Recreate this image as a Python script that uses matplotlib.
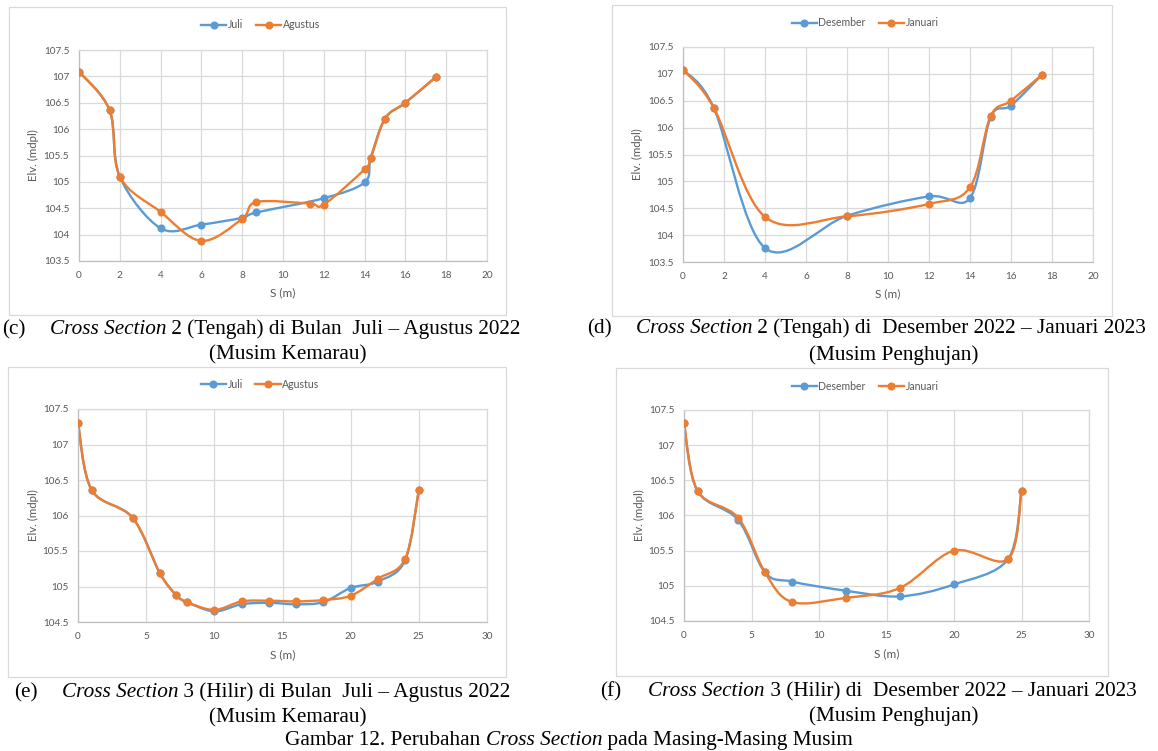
import numpy as np
import matplotlib
matplotlib.use("Agg")
import matplotlib.pyplot as plt
from matplotlib.path import Path
from matplotlib.patches import PathPatch, Rectangle
from matplotlib.lines import Line2D
from matplotlib.ticker import MultipleLocator, FuncFormatter

# ---------------- data ----------------
# (c) Cross Section 2, Juli - Agustus 2022
c_juli_s = [0, 1.5, 2, 4, 6, 8, 8.7, 12, 14, 14.3, 15, 16, 17.5]
c_juli_e = [107.09, 106.36, 105.10, 104.12, 104.19, 104.32, 104.42, 104.69, 104.99, 105.45, 106.20, 106.50, 106.99]
c_agus_s = [0, 1.5, 2, 4, 6, 8, 8.7, 11.3, 12, 14, 14.3, 15, 16, 17.5]
c_agus_e = [107.09, 106.36, 105.10, 104.43, 103.88, 104.30, 104.62, 104.59, 104.57, 105.24, 105.45, 106.20, 106.50, 106.99]

# (d) Cross Section 2, Desember 2022 - Januari 2023
d_des_s = [0, 1.5, 4, 8, 12, 14, 15, 16, 17.5]
d_des_e = [107.08, 106.37, 103.76, 104.36, 104.72, 104.69, 106.19, 106.41, 106.98]
d_jan_s = [0, 1.5, 4, 8, 12, 14, 15, 16, 17.5]
d_jan_e = [107.08, 106.37, 104.34, 104.35, 104.58, 104.89, 106.21, 106.50, 106.98]

# (e) Cross Section 3, Juli - Agustus 2022
e_juli_s = [0, 1, 4, 6, 7.2, 8, 10, 12, 14, 16, 18, 20, 22, 24, 25]
e_juli_e = [107.30, 106.36, 105.97, 105.19, 104.88, 104.78, 104.65, 104.75, 104.77, 104.75, 104.78, 104.98, 105.07, 105.37, 106.36]
e_agus_s = [0, 1, 4, 6, 7.2, 8, 10, 12, 14, 16, 18, 20, 22, 24, 25]
e_agus_e = [107.30, 106.36, 105.97, 105.19, 104.88, 104.78, 104.67, 104.79, 104.80, 104.79, 104.81, 104.87, 105.11, 105.39, 106.36]

# (f) Cross Section 3, Desember 2022 - Januari 2023
f_des_s = [0, 1, 4, 6, 8, 12, 16, 20, 24, 25]
f_des_e = [107.31, 106.35, 105.94, 105.19, 105.06, 104.93, 104.85, 105.02, 105.38, 106.35]
f_jan_s = [0, 1, 4, 6, 8, 12, 16, 20, 24, 25]
f_jan_e = [107.31, 106.35, 105.97, 105.19, 104.77, 104.83, 104.97, 105.50, 105.38, 106.35]

labels_dry = ["Juli", "Agustus"]
labels_wet = ["Desember", "Januari"]

# ---------------- style ----------------
W, H = 1158, 751
BLUE = "#5B9BD5"
ORANGE = "#ED7D31"
GRID = "#D9D9D9"
TXT = "#595959"
SANS = ["Lato", "DejaVu Sans"]
SERIF = ["Liberation Serif", "DejaVu Serif"]

fig = plt.figure(figsize=(W / 100, H / 100), dpi=100)
fig.patch.set_facecolor("white")


def fx(x):
    return x / W


def fy(y):
    return 1 - y / H


def smooth_path(xs, ys):
    pts = np.column_stack([xs, ys]).astype(float)
    n = len(pts)
    verts = [pts[0]]
    codes = [Path.MOVETO]
    for i in range(n - 1):
        p0 = pts[i - 1] if i > 0 else pts[i]
        p1 = pts[i]
        p2 = pts[i + 1]
        p3 = pts[i + 2] if i + 2 < n else pts[i + 1]
        c1 = p1 + (p2 - p0) / 6.0
        c2 = p2 - (p3 - p1) / 6.0
        verts += [c1, c2, p2]
        codes += [Path.CURVE4] * 3
    return Path(verts, codes)


def panel(box, ax_px, xmax, xstep, ymin, series, labels, legend_y, ylab_x, xlab_y):
    bx0, by0, bx1, by1 = box
    fig.add_artist(Rectangle((fx(bx0), fy(by1)), fx(bx1 - bx0), (by1 - by0) / H,
                             transform=fig.transFigure, fill=False,
                             edgecolor=GRID, lw=0.9, zorder=0))
    l, t, r, b = ax_px
    ax = fig.add_axes([fx(l), fy(b), fx(r - l), (b - t) / H])
    ax.set_xlim(0, xmax)
    ax.set_ylim(ymin, 107.5)
    ax.xaxis.set_major_locator(MultipleLocator(xstep))
    ax.yaxis.set_major_locator(MultipleLocator(0.5))
    fmt = FuncFormatter(lambda v, p: f"{v:g}")
    ax.xaxis.set_major_formatter(fmt)
    ax.yaxis.set_major_formatter(fmt)
    ax.grid(True, color=GRID, lw=0.9)
    ax.set_axisbelow(True)
    for sp in ["top", "right"]:
        ax.spines[sp].set_color(GRID)
        ax.spines[sp].set_linewidth(0.9)
    for sp in ["left", "bottom"]:
        ax.spines[sp].set_color("#BFBFBF")
        ax.spines[sp].set_linewidth(0.9)
    ax.tick_params(length=0, labelsize=7.2, labelcolor=TXT, pad=7)
    for lab in ax.get_xticklabels() + ax.get_yticklabels():
        lab.set_family(SANS)
    ax.set_xlabel("S (m)", fontsize=8.5, color=TXT, family=SANS)
    ax.set_ylabel("Elv. (mdpl)", fontsize=8.3, color=TXT, family=SANS)
    ax.xaxis.set_label_coords(fx((l + r) / 2), fy(xlab_y), transform=fig.transFigure)
    ax.yaxis.set_label_coords(fx(ylab_x), fy((t + b) / 2), transform=fig.transFigure)
    ax.xaxis.label.set_va("center")
    ax.yaxis.label.set_va("center")

    handles = []
    for (xs, ys), color, lab in zip(series, [BLUE, ORANGE], labels):
        ax.add_patch(PathPatch(smooth_path(xs, ys), fill=False, edgecolor=color,
                               lw=1.7, capstyle="round", joinstyle="round"))
        ax.plot(xs, ys, "o", color=color, ms=4.8, zorder=3)
        handles.append(Line2D([], [], color=color, lw=1.7, marker="o", ms=4.8, label=lab))
    ax.legend(handles=handles, loc="center",
              bbox_to_anchor=(fx((bx0 + bx1) / 2 + 3), fy(legend_y)),
              bbox_transform=fig.transFigure, ncol=2, frameon=False,
              prop={"family": SANS, "size": 7.6}, labelcolor=TXT,
              handlelength=2.4, handletextpad=0.15, columnspacing=1.2)
    return ax


panel((9, 7, 506, 315), (79, 50, 487, 261), 20, 2, 103.5,
      [(c_juli_s, c_juli_e), (c_agus_s, c_agus_e)], labels_dry, 25, 33, 293)
panel((612, 5, 1112, 316), (683, 47, 1093, 262), 20, 2, 103.5,
      [(d_des_s, d_des_e), (d_jan_s, d_jan_e)], labels_wet, 23, 637, 294)
panel((8, 367, 506, 677), (78, 409, 487, 622), 30, 5, 104.5,
      [(e_juli_s, e_juli_e), (e_agus_s, e_agus_e)], labels_dry, 384, 33, 655)
panel((616, 368, 1108, 676), (684, 410, 1089, 621), 30, 5, 104.5,
      [(f_des_s, f_des_e), (f_jan_s, f_jan_e)], labels_wet, 386, 639, 654)

# ---------------- captions ----------------
renderer = fig.canvas.get_renderer()
CAP = 15.3


def seq_text(x0, y, parts):
    x = fx(x0)
    for s, style in parts:
        t = fig.text(x, fy(y), s, fontsize=CAP, family=SERIF, style=style,
                     va="baseline", ha="left", color="black")
        bb = t.get_window_extent(renderer)
        x = bb.x1 / (fig.dpi * fig.get_figwidth())


def caption(tag, tag_x, start_x, y1, y2, rest, line2, c2x):
    fig.text(fx(tag_x), fy(y1), tag, fontsize=CAP, family=SERIF, va="baseline", ha="left")
    seq_text(start_x, y1, [("Cross Section", "italic"), (rest, "normal")])
    fig.text(fx(c2x), fy(y2), line2, fontsize=CAP, family=SERIF, va="baseline", ha="center")


caption("(c)", 2, 50, 334, 359, " 2 (Tengah) di Bulan  Juli \u2013 Agustus 2022", "(Musim Kemarau)", 288)
caption("(d)", 587, 636, 333, 360, " 2 (Tengah) di  Desember 2022 \u2013 Januari 2023", "(Musim Penghujan)", 894)
caption("(e)", 14, 62, 697, 722, " 3 (Hilir) di Bulan  Juli \u2013 Agustus 2022", "(Musim Kemarau)", 288)
caption("(f)", 600, 648, 696, 721, " 3 (Hilir) di  Desember 2022 \u2013 Januari 2023", "(Musim Penghujan)", 894)

seq_text(285, 745, [("Gambar 12. Perubahan ", "normal"), ("Cross Section", "italic"),
                    (" pada Masing-Masing Musim", "normal")])

fig.savefig("out.png", dpi=100, facecolor="white")
